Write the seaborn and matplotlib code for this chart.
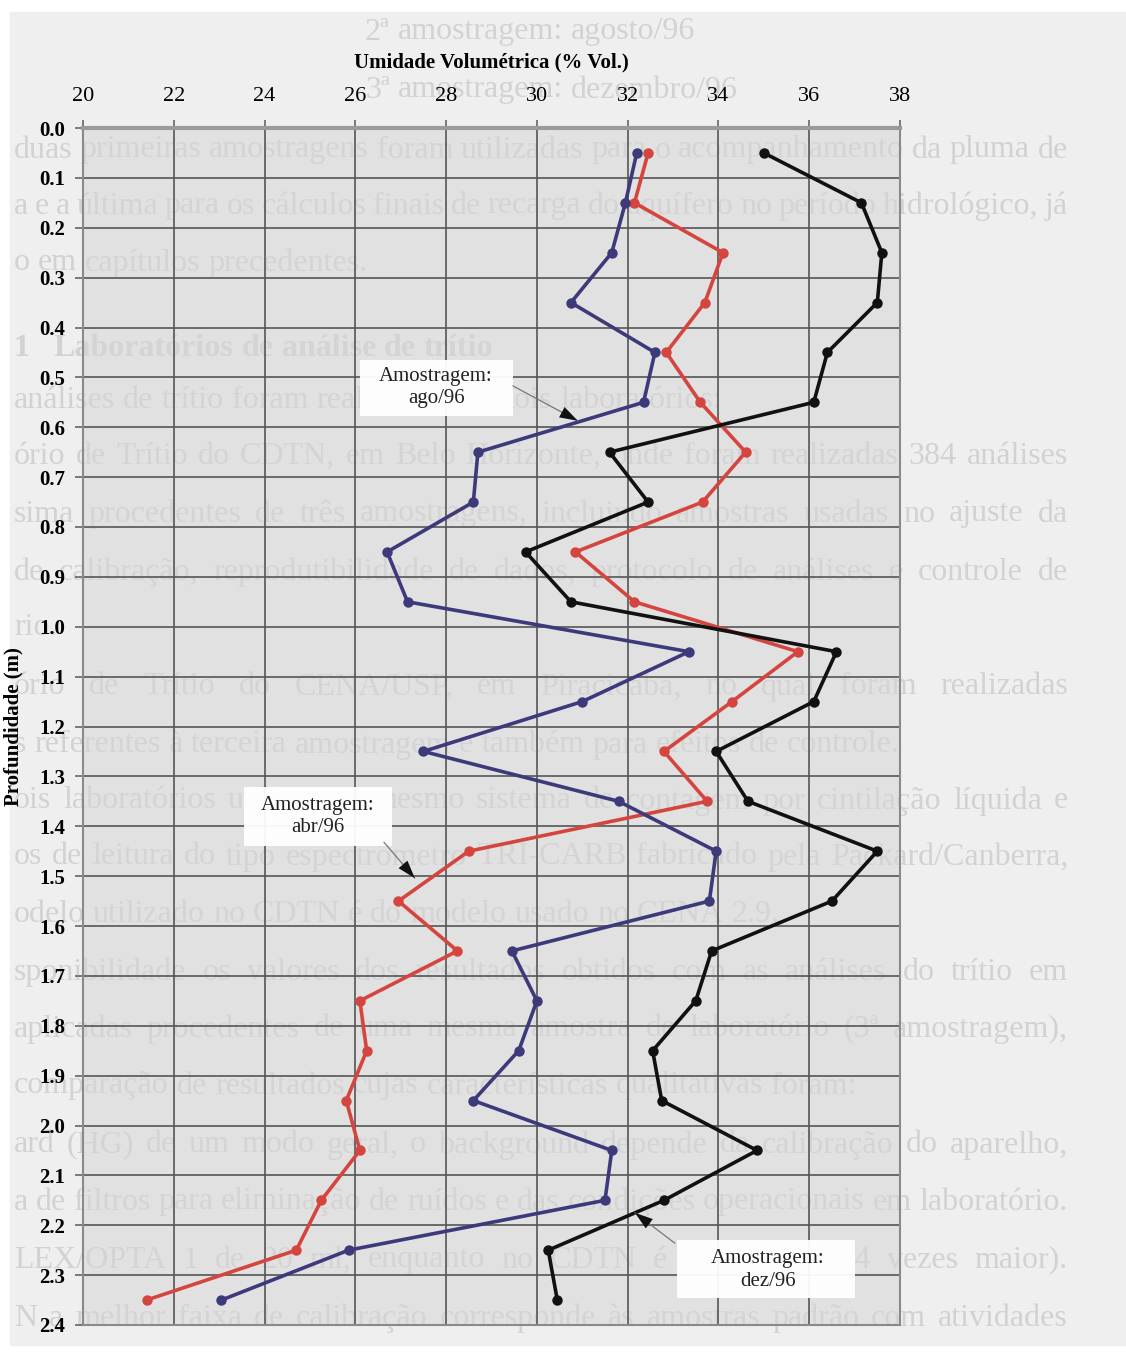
import matplotlib
matplotlib.use("Agg")
import matplotlib.pyplot as plt
import pandas as pd
import seaborn as sns
from matplotlib.patches import Rectangle

# ---------------------------------------------------------------- data
profundidade = [0.05, 0.15, 0.25, 0.35, 0.45, 0.55, 0.65, 0.75, 0.85, 0.95,
                1.05, 1.15, 1.25, 1.35, 1.45, 1.55, 1.65, 1.75, 1.85, 1.95,
                2.05, 2.15, 2.25, 2.35]

umidade_abr96 = [32.45, 32.15, 34.10, 33.70, 32.85, 33.60, 34.60, 33.65, 30.85, 32.15,
                 35.75, 34.30, 32.80, 33.75, 28.50, 26.95, 28.25, 26.10, 26.25, 25.80,
                 26.10, 25.25, 24.70, 21.40]

umidade_ago96 = [32.20, 31.95, 31.65, 30.75, 32.60, 32.35, 28.70, 28.60, 26.70, 27.15,
                 33.35, 31.00, 27.50, 31.80, 33.95, 33.80, 29.45, 30.00, 29.60, 28.60,
                 31.65, 31.50, 25.85, 23.05]

umidade_dez96 = [35.00, 37.15, 37.60, 37.50, 36.40, 36.10, 31.60, 32.45, 29.75, 30.75,
                 36.60, 36.10, 33.95, 34.65, 37.50, 36.50, 33.85, 33.50, 32.55, 32.75,
                 34.85, 32.80, 30.25, 30.45]

campanhas = ["abr/96", "ago/96", "dez/96"]
x_ticks = [20, 22, 24, 26, 28, 30, 32, 34, 36, 38]
y_ticks = [0.0, 0.1, 0.2, 0.3, 0.4, 0.5, 0.6, 0.7, 0.8, 0.9, 1.0, 1.1, 1.2,
           1.3, 1.4, 1.5, 1.6, 1.7, 1.8, 1.9, 2.0, 2.1, 2.2, 2.3, 2.4]

titulo_x = "Umidade Volumétrica (% Vol.)"
titulo_y = "Profundidade (m)"

# faint text of the facing page showing through the sheet
texto_verso = [
    ("2ª amostragem: agosto/96", 32, 365, False, "normal"),
    ("3ª amostragem: dezembro/96", 90, 365, False, "normal"),
    ("duas primeiras amostragens foram utilizadas para o acompanhamento da pluma de", 150, 14, True, "normal"),
    ("a e a última para os cálculos finais de recarga do aquífero no período hidrológico, já", 206, 14, True, "normal"),
    ("o em capítulos precedentes.", 263, 14, False, "normal"),
    ("1   Laboratórios de análise de trítio", 348, 14, False, "bold"),
    ("análises de trítio foram realizadas em dois laboratórios:", 400, 14, False, "normal"),
    ("ório de Trítio do CDTN, em Belo Horizonte, onde foram realizadas 384 análises", 456, 14, True, "normal"),
    ("sima procedentes de três amostragens, incluindo amostras usadas no ajuste da", 514, 14, True, "normal"),
    ("de calibração, reprodutibilidade de dados, protocolo de análises e controle de", 572, 14, True, "normal"),
    ("rio.", 628, 14, False, "normal"),
    ("ório de Trítio do CENA/USP, em Piracicaba, no qual foram realizadas", 687, 14, True, "normal"),
    ("s referentes à terceira amostragem e também para efeitos de controle.", 745, 14, False, "normal"),
    ("ois laboratórios utilizam o mesmo sistema de contagem por cintilação líquida e", 801, 14, True, "normal"),
    ("os de leitura do tipo espectrômetro TRI-CARB fabricado pela Packard/Canberra,", 857, 14, True, "normal"),
    ("odelo utilizado no CDTN é do modelo usado no CENA 2.9.", 914, 14, False, "normal"),
    ("sponibilidade os valores dos resultados obtidos com as análises do trítio em", 972, 14, True, "normal"),
    ("aplicadas procedentes de uma mesma amostra de laboratório (3ª amostragem),", 1029, 14, True, "normal"),
    ("comparação de resultados cujas características qualitativas foram:", 1086, 14, False, "normal"),
    ("ard (HG) de um modo geral, o background depende da calibração do aparelho,", 1145, 14, True, "normal"),
    ("a de filtros para eliminação de ruídos e das condições operacionais em laboratório.", 1202, 14, True, "normal"),
    ("LEX/OPTA 1 de 20 ml, enquanto no CDTN é de 12 ml (14 vezes maior).", 1260, 14, True, "normal"),
    ("N a melhor faixa de calibração corresponde às amostras padrão com atividades", 1318, 14, True, "normal"),
]

# ---------------------------------------------------------------- figure
W, H = 1126, 1355
fig = plt.figure(figsize=(W / 100, H / 100), dpi=100)
fig.patch.set_facecolor("white")
fig.add_artist(Rectangle((10 / W, 1 - 1345 / H), (W - 10) / W, (1345 - 12) / H,
                         transform=fig.transFigure, color="#efefef", zorder=-20))

serif = ["Liberation Serif", "DejaVu Serif"]
renderer = fig.canvas.get_renderer()


def linha_verso(texto, y_px, x0, justificar, peso, x1=1068, tam=23, cor="#d2d2d2"):
    palavras = texto.split(" ") if peso == "bold" else texto.split()
    objs = [fig.text(0, 1 - y_px / H, p, fontsize=tam, family=serif, weight=peso,
                     color=cor, va="center", ha="left", zorder=-5) for p in palavras]
    larg = [o.get_window_extent(renderer).width for o in objs]
    espaco = tam * 0.25 * 100 / 72
    if justificar and len(objs) > 1:
        minimo = espaco * 0.8
        natural = sum(larg) + minimo * (len(objs) - 1)
        if natural > x1 - x0:
            fator = (x1 - x0) / natural
            for o in objs:
                o.set_fontsize(tam * fator)
            larg = [o.get_window_extent(renderer).width for o in objs]
            minimo *= fator
        espaco = max((x1 - x0 - sum(larg)) / (len(objs) - 1), minimo)
    x = x0
    for o, w in zip(objs, larg):
        o.set_x(x / W)
        x += w + espaco


for texto, y_px, x0, just, peso in texto_verso:
    linha_verso(texto, y_px, x0, just, peso)

# ---------------------------------------------------------------- axes
ax = fig.add_axes([83 / W, 1 - 1325 / H, 817 / W, 1197 / H])
ax.set_facecolor((0.84, 0.84, 0.84, 0.55))

tabela = pd.DataFrame({
    "profundidade": profundidade * 3,
    "umidade": umidade_abr96 + umidade_ago96 + umidade_dez96,
    "campanha": [c for c in campanhas for _ in profundidade],
})
cores = {"abr/96": "#d5453f", "ago/96": "#3d3a7c", "dez/96": "#111111"}

for camp in campanhas:
    sns.lineplot(data=tabela[tabela["campanha"] == camp], x="umidade", y="profundidade",
                 sort=False, estimator=None, color=cores[camp], lw=2.6,
                 marker="o", markersize=7.5, markeredgewidth=0, ax=ax, zorder=5)

ax.set_xlim(20, 38)
ax.set_ylim(2.4, 0.0)
ax.set_xticks(x_ticks)
ax.set_yticks(y_ticks)
ax.set_yticklabels([f"{v:.1f}" for v in y_ticks])
ax.grid(True, color="#555555", lw=1.2, zorder=1)
ax.set_axisbelow(True)

ax.xaxis.set_label_position("top")
ax.tick_params(axis="x", top=True, bottom=False, labeltop=True, labelbottom=False,
               length=6, width=1.2, color="#666666", pad=10, labelsize=16)
ax.tick_params(axis="y", length=6, width=1.2, color="#666666", pad=7, labelsize=15)
for lab in ax.get_xticklabels():
    lab.set_family(serif)
for lab in ax.get_yticklabels():
    lab.set_family(serif)
    lab.set_weight("bold")

ax.set_xlabel(titulo_x, fontsize=15, family=serif, weight="bold", labelpad=14)
ax.set_ylabel(titulo_y, fontsize=15, family=serif, weight="bold", labelpad=11)

for lado, sp in ax.spines.items():
    sp.set_color("#8a8a8a")
    sp.set_linewidth(1.5)
ax.spines["top"].set_linewidth(3.0)
ax.spines["top"].set_color("#9a9a9a")

# ---------------------------------------------------------------- labels
rotulos = [
    # text x, text y, box (x0, y0, x1, y1), arrow start, arrow tip
    ("ago/96", 27.78, 0.52, (26.10, 0.465, 29.47, 0.577), (29.47, 0.517), (30.90, 0.587)),
    ("abr/96", 25.18, 1.38, (23.55, 1.321, 26.81, 1.440), (26.63, 1.432), (27.31, 1.504)),
    ("dez/96", 35.09, 2.29, (33.09, 2.230, 37.01, 2.346), (33.04, 2.236), (32.16, 2.175)),
]
for camp, tx, ty, (bx0, by0, bx1, by1), ini, ponta in rotulos:
    ax.add_patch(Rectangle((bx0, by0), bx1 - bx0, by1 - by0, facecolor="white",
                           edgecolor="none", alpha=0.95, zorder=6))
    ax.text(tx, ty, f"Amostragem:\n{camp}", ha="center", va="center", fontsize=15,
            family=serif, color="#222222", linespacing=1.25, zorder=7)
    ax.annotate("", xy=ponta, xytext=ini,
                arrowprops=dict(arrowstyle="-", color="#777777", lw=0.9,
                                shrinkA=0, shrinkB=0), zorder=7)
    ax.annotate("", xy=ponta, xytext=ini,
                arrowprops=dict(arrowstyle="-|>,head_length=1.3,head_width=0.42",
                                color="#111111", lw=0.0, shrinkA=0, shrinkB=0),
                zorder=7)

fig.savefig("out.png", dpi=100, facecolor=fig.get_facecolor())
